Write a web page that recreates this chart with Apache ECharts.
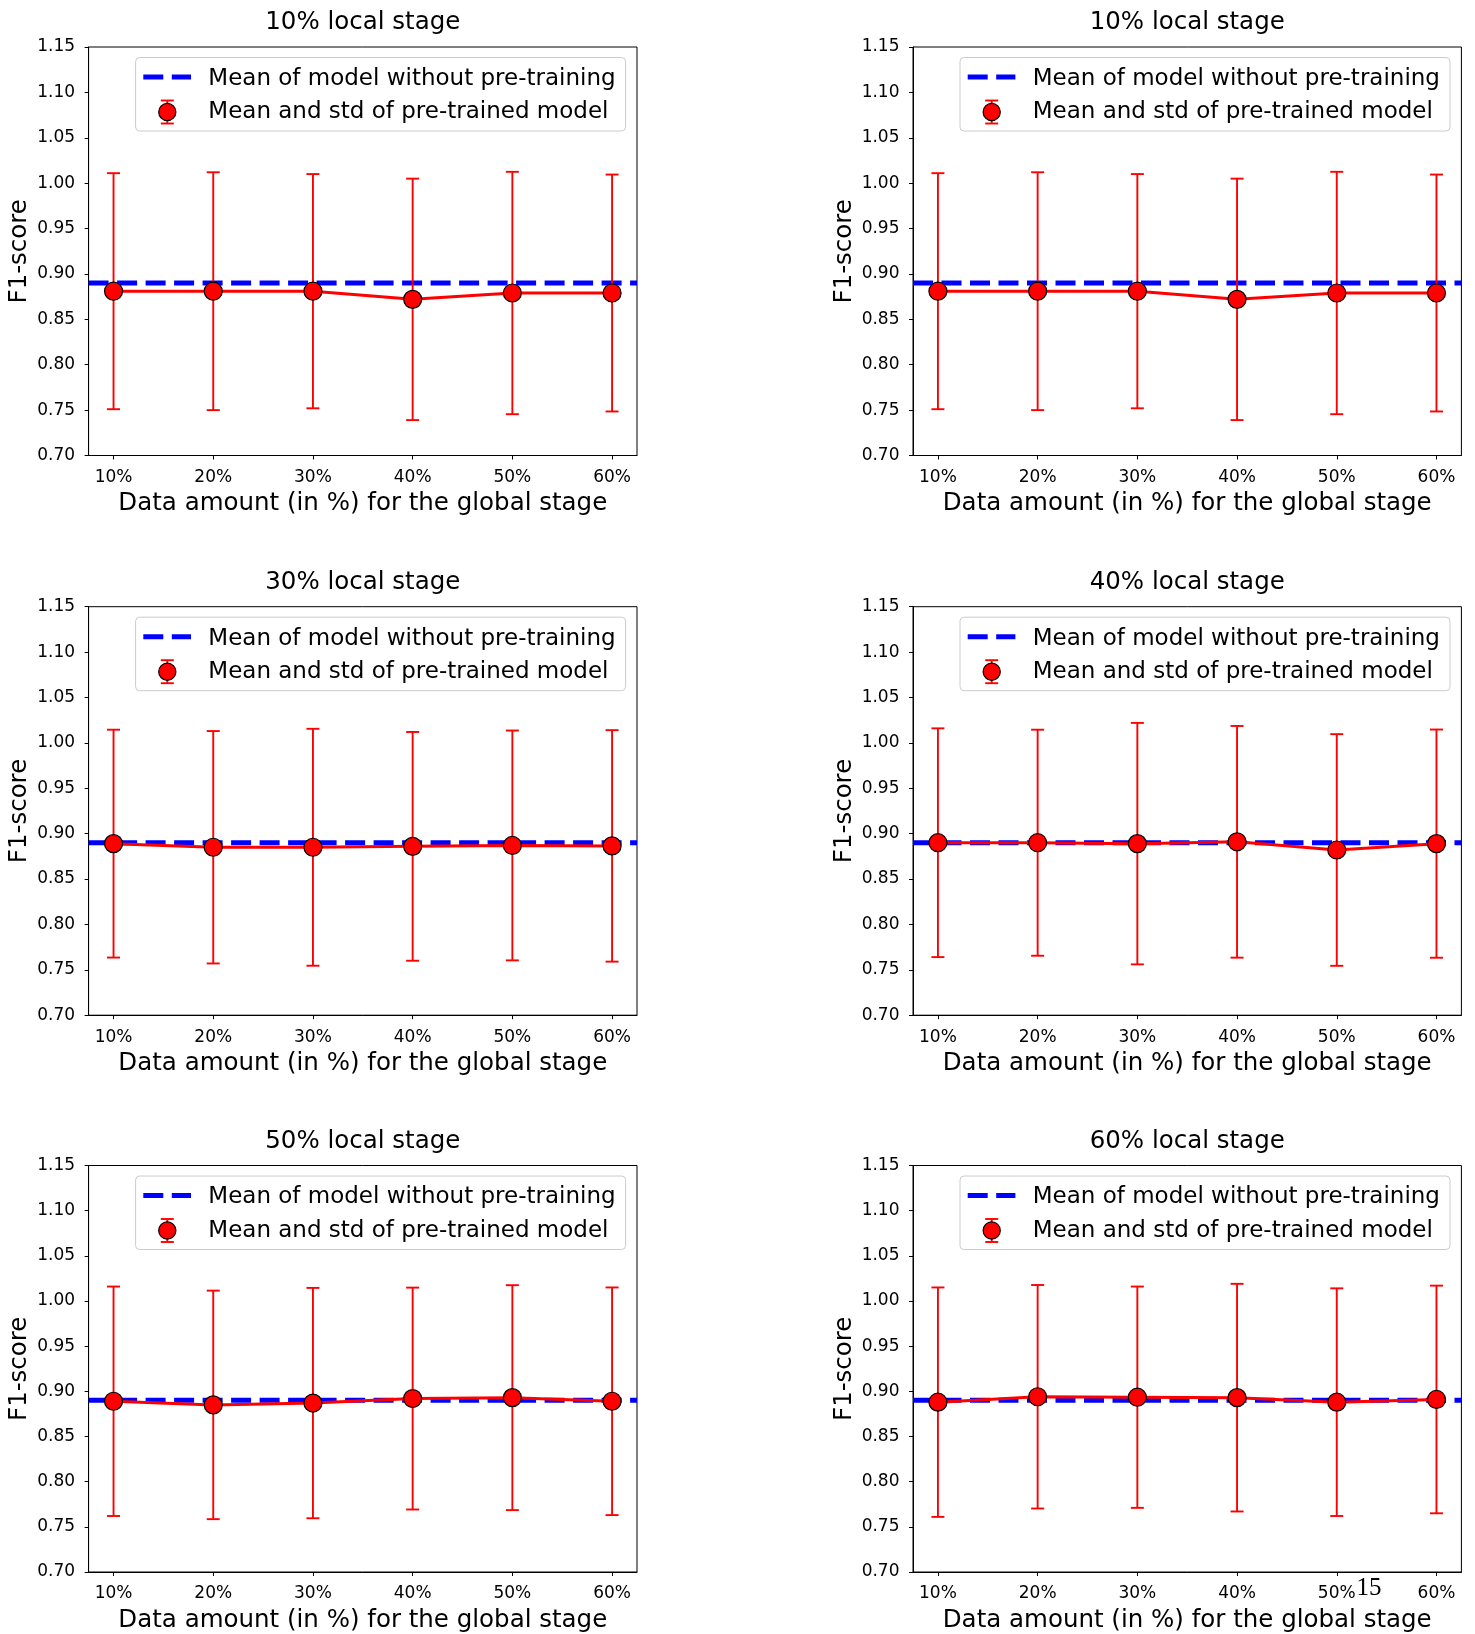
<!DOCTYPE html>
<html>
<head>
<meta charset="utf-8">
<script src="https://cdn.jsdelivr.net/npm/echarts@6/dist/echarts.min.js"></script>
<style>
html,body{margin:0;padding:0;background:#ffffff;}
#chart{width:1475px;height:1634px;}
</style>
</head>
<body>
<div id="chart"></div>
<script>
// ---------------- DATA ----------------
const categories = ['10%', '20%', '30%', '40%', '50%', '60%'];
const panelTitles = ['10% local stage', '10% local stage', '30% local stage',
                     '40% local stage', '50% local stage', '60% local stage'];
const xAxisTitle = 'Data amount (in %) for the global stage';
const yAxisTitle = 'F1-score';
const legendNames = ['Mean of model without pre-training', 'Mean and std of pre-trained model'];

// mean of model without pre-training (one per panel)
const baselineMean = [0.89, 0.89, 0.89, 0.89, 0.89, 0.89];

// mean and std of pre-trained model, per panel
const meanPanel1 = [0.881, 0.881, 0.881, 0.872, 0.879, 0.879];
const stdPanel1  = [0.130, 0.131, 0.129, 0.133, 0.1335, 0.1305];
const meanPanel2 = [0.881, 0.881, 0.881, 0.872, 0.879, 0.879];
const stdPanel2  = [0.130, 0.131, 0.129, 0.133, 0.1335, 0.1305];
const meanPanel3 = [0.889, 0.885, 0.885, 0.886, 0.887, 0.8865];
const stdPanel3  = [0.1255, 0.128, 0.1305, 0.126, 0.1266, 0.1275];
const meanPanel4 = [0.890, 0.890, 0.889, 0.891, 0.882, 0.889];
const stdPanel4  = [0.126, 0.1245, 0.133, 0.1276, 0.1276, 0.1257];
const meanPanel5 = [0.889, 0.885, 0.887, 0.892, 0.893, 0.889];
const stdPanel5  = [0.127, 0.1265, 0.1275, 0.1228, 0.1245, 0.126];
const meanPanel6 = [0.888, 0.894, 0.8935, 0.893, 0.888, 0.891];
const stdPanel6  = [0.127, 0.1237, 0.1225, 0.126, 0.126, 0.126];

const yMin = 0.70, yMax = 1.15, yStep = 0.05;
const pageNumber = '15';

// ---------------- LAYOUT ----------------
const means = [meanPanel1, meanPanel2, meanPanel3, meanPanel4, meanPanel5, meanPanel6];
const stds  = [stdPanel1, stdPanel2, stdPanel3, stdPanel4, stdPanel5, stdPanel6];

const FONT = '"DejaVu Sans", sans-serif';
const colLefts = [88.6, 913];
const rowTops = [47, 606.7, 1165.5];
const gridW = 548.4, gridH = 408.5;
const RED = '#ff0000', BLUE = '#0000ff';

const grids = [], xAxes = [], yAxes = [], titles = [], series = [], graphics = [];

for (let i = 0; i < 6; i++) {
  const col = i % 2, row = Math.floor(i / 2);
  const gx = colLefts[col], gy = rowTops[row];

  grids.push({
    left: gx, top: gy, width: gridW, height: gridH,
    show: true, borderColor: '#000', borderWidth: 1, backgroundColor: 'transparent'
  });

  titles.push({
    text: panelTitles[i],
    left: gx + gridW / 2, top: gy - 36.8, textAlign: 'center', padding: 0,
    textStyle: { fontFamily: FONT, fontSize: 24.5, fontWeight: 'normal', color: '#000' }
  });

  xAxes.push({
    type: 'value', gridIndex: i, min: -0.25, max: 5.25,
    name: xAxisTitle, nameLocation: 'middle', nameGap: 36,
    nameTextStyle: { fontFamily: FONT, fontSize: 24.5, color: '#000' },
    axisLine: { show: true, onZero: false, lineStyle: { color: '#000', width: 1 } },
    axisTick: { show: true, inside: false, length: 4, customValues: categories.map((c, j) => j),
                lineStyle: { color: '#000', width: 1 } },
    axisLabel: { show: true, margin: 13.5, customValues: categories.map((c, j) => j),
                 formatter: v => categories[Math.round(v)],
                 fontFamily: FONT, fontSize: 17, color: '#000' },
    splitLine: { show: false }
  });

  yAxes.push({
    type: 'value', gridIndex: i, min: yMin, max: yMax, interval: yStep,
    name: yAxisTitle, nameLocation: 'middle', nameGap: 56, nameRotate: 90,
    nameTextStyle: { fontFamily: FONT, fontSize: 24.5, color: '#000' },
    axisLine: { show: true, onZero: false, lineStyle: { color: '#000', width: 1 } },
    axisTick: { show: true, inside: false, length: 4, lineStyle: { color: '#000', width: 1 } },
    axisLabel: { show: true, margin: 13.5, formatter: v => v.toFixed(2),
                 fontFamily: FONT, fontSize: 17, color: '#000' },
    splitLine: { show: false }
  });

  // baseline dashed line (axhline)
  series.push({
    name: legendNames[0], type: 'line', xAxisIndex: i, yAxisIndex: i,
    data: [[-0.25, baselineMean[i]], [5.25, baselineMean[i]]],
    symbol: 'none', silent: true, z: 1,
    lineStyle: { color: BLUE, width: 5, type: [20, 8.5], cap: 'butt' }
  });

  // error bars
  const m = means[i], s = stds[i];
  series.push({
    name: legendNames[1] + ' (std)', type: 'custom', xAxisIndex: i, yAxisIndex: i, z: 3,
    data: categories.map((c, j) => [j, m[j] - s[j], m[j] + s[j]]),
    encode: { x: 0, y: [1, 2] },
    renderItem: function (params, api) {
      const x = api.value(0);
      const lo = api.coord([x, api.value(1)]);
      const hi = api.coord([x, api.value(2)]);
      const hw = 6.5;
      const st = { stroke: RED, lineWidth: 1.9, fill: null };
      return {
        type: 'group',
        children: [
          { type: 'line', shape: { x1: lo[0], y1: lo[1], x2: hi[0], y2: hi[1] }, style: st },
          { type: 'line', shape: { x1: lo[0] - hw, y1: lo[1], x2: lo[0] + hw, y2: lo[1] }, style: st },
          { type: 'line', shape: { x1: hi[0] - hw, y1: hi[1], x2: hi[0] + hw, y2: hi[1] }, style: st }
        ]
      };
    }
  });

  // mean line with markers
  series.push({
    name: legendNames[1], type: 'line', xAxisIndex: i, yAxisIndex: i, z: 4,
    data: categories.map((c, j) => [j, m[j]]),
    symbol: 'circle', symbolSize: 18,
    lineStyle: { color: RED, width: 3 },
    itemStyle: { color: RED, borderColor: '#000', borderWidth: 1.2 }
  });

  // legend (drawn box)
  const zL = 100;
  const r1 = gy + 30.5, r2 = gy + 65;
  graphics.push(
    { type: 'rect', z: zL, shape: { x: gx + 47, y: gy + 10.5, width: 490, height: 73.5, r: 4 },
      style: { fill: 'rgba(255,255,255,0.8)', stroke: '#cccccc', lineWidth: 1 } },
    { type: 'line', z: zL + 1, shape: { x1: gx + 54.7, y1: r1 - 0.5, x2: gx + 102.4, y2: r1 - 0.5 },
      style: { stroke: BLUE, lineWidth: 5, lineDash: [20, 8.5] } },
    { type: 'text', z: zL + 1,
      style: { text: legendNames[0], x: gx + 119.7, y: r1 + 1.5, font: '23px ' + FONT, fill: '#000',
               textAlign: 'left', textVerticalAlign: 'middle', align: 'left', verticalAlign: 'middle' } },
    { type: 'line', z: zL + 1, shape: { x1: gx + 78.7, y1: r2 - 11.5, x2: gx + 78.7, y2: r2 + 11.5 },
      style: { stroke: RED, lineWidth: 1.9 } },
    { type: 'line', z: zL + 1, shape: { x1: gx + 72.2, y1: r2 - 11.5, x2: gx + 85.2, y2: r2 - 11.5 },
      style: { stroke: RED, lineWidth: 1.9 } },
    { type: 'line', z: zL + 1, shape: { x1: gx + 72.2, y1: r2 + 11.5, x2: gx + 85.2, y2: r2 + 11.5 },
      style: { stroke: RED, lineWidth: 1.9 } },
    { type: 'circle', z: zL + 2, shape: { cx: gx + 78.7, cy: r2, r: 8.6 },
      style: { fill: RED, stroke: '#000', lineWidth: 1.2 } },
    { type: 'text', z: zL + 1,
      style: { text: legendNames[1], x: gx + 119.7, y: r2 + 0.5, font: '23px ' + FONT, fill: '#000',
               textAlign: 'left', textVerticalAlign: 'middle', align: 'left', verticalAlign: 'middle' } }
  );
}

graphics.push({
  type: 'text', z: 200,
  style: { text: pageNumber, x: 1369, y: 1588, font: '25px "Liberation Serif", serif', fill: '#000',
           textAlign: 'center', textVerticalAlign: 'middle', align: 'center', verticalAlign: 'middle' }
});

const chart = echarts.init(document.getElementById('chart'), null, { renderer: 'canvas' });
chart.setOption({
  animation: false,
  backgroundColor: '#ffffff',
  title: titles,
  grid: grids,
  xAxis: xAxes,
  yAxis: yAxes,
  series: series,
  graphic: { elements: graphics }
});
</script>
</body>
</html>
